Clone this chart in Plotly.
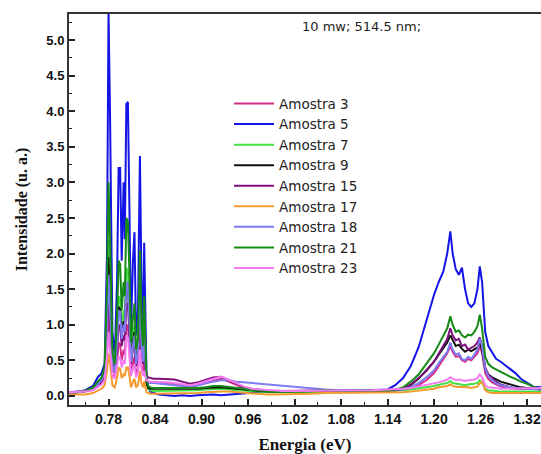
import plotly.graph_objects as go

# Photon energy grid (eV), shared by all samples
energy = [
    0.729, 0.740, 0.750, 0.760, 0.766, 0.771, 0.775, 0.778, 0.780, 0.782,
    0.785, 0.788, 0.791, 0.793, 0.795, 0.797, 0.7995, 0.801, 0.803, 0.805,
    0.807, 0.809, 0.8115, 0.8135, 0.8155, 0.818, 0.8205, 0.8225, 0.8245, 0.826,
    0.8275, 0.829, 0.831, 0.834, 0.838, 0.845, 0.855, 0.865, 0.875, 0.885,
    0.895, 0.905, 0.915, 0.925, 0.935, 0.945, 0.955, 0.965, 0.975, 0.985,
    0.995, 1.005, 1.020, 1.040, 1.060, 1.080, 1.100, 1.120, 1.140, 1.150,
    1.160, 1.170, 1.180, 1.190, 1.200, 1.206, 1.212, 1.217, 1.221, 1.224,
    1.228, 1.232, 1.236, 1.240, 1.244, 1.248, 1.252, 1.256, 1.259, 1.262,
    1.266, 1.270, 1.275, 1.280, 1.286, 1.292, 1.298, 1.305, 1.312, 1.320,
    1.328, 1.338,
]

amostra_3 = [
    0.05, 0.05, 0.06, 0.09, 0.14, 0.18, 0.26, 0.65, 1.10, 0.80,
    0.30, 0.26, 0.50, 0.75, 0.72, 0.50, 0.65, 0.58, 1.00, 0.98,
    0.65, 0.32, 0.45, 0.55, 0.30, 0.38, 0.70, 0.42, 0.32, 0.50,
    0.35, 0.22, 0.20, 0.19, 0.19, 0.19, 0.18, 0.17, 0.15, 0.13,
    0.15, 0.18, 0.22, 0.24, 0.20, 0.15, 0.11, 0.09, 0.08, 0.07,
    0.07, 0.07, 0.07, 0.07, 0.08, 0.07, 0.08, 0.08, 0.08, 0.08,
    0.09, 0.11, 0.15, 0.22, 0.32, 0.42, 0.52, 0.60, 0.70, 0.62,
    0.55, 0.56, 0.50, 0.48, 0.52, 0.50, 0.55, 0.60, 0.70, 0.60,
    0.32, 0.24, 0.19, 0.16, 0.13, 0.12, 0.11, 0.10, 0.10, 0.10,
    0.10, 0.10,
]

amostra_5 = [
    0.05, 0.06, 0.08, 0.14, 0.26, 0.32, 0.45, 2.00, 5.40, 3.90,
    0.90, 0.55, 1.60, 3.20, 3.20, 1.90, 3.00, 2.20, 4.10, 4.13,
    2.60, 0.95, 1.90, 2.30, 0.85, 1.20, 3.37, 1.60, 0.90, 2.15,
    1.20, 0.30, 0.12, 0.06, 0.04, 0.02, 0.01, 0.00, 0.01, 0.00,
    0.01, 0.02, 0.02, 0.01, 0.02, 0.02, 0.03, 0.04, 0.05, 0.06,
    0.06, 0.07, 0.07, 0.07, 0.07, 0.08, 0.08, 0.08, 0.09, 0.15,
    0.25, 0.42, 0.68, 1.05, 1.42, 1.60, 1.75, 2.00, 2.31, 2.00,
    1.78, 1.70, 1.80, 1.50, 1.30, 1.25, 1.30, 1.50, 1.82, 1.60,
    0.90, 0.70, 0.60, 0.52, 0.48, 0.43, 0.38, 0.32, 0.24, 0.18,
    0.13, 0.12,
]

amostra_7 = [
    0.05, 0.05, 0.06, 0.10, 0.16, 0.22, 0.35, 1.20, 2.20, 1.60,
    0.50, 0.38, 0.90, 1.40, 1.35, 0.95, 1.20, 1.05, 1.80, 1.75,
    1.20, 0.55, 0.85, 1.00, 0.50, 0.65, 1.50, 0.75, 0.55, 1.00,
    0.60, 0.18, 0.10, 0.08, 0.07, 0.07, 0.07, 0.07, 0.07, 0.07,
    0.08, 0.09, 0.10, 0.10, 0.09, 0.08, 0.07, 0.06, 0.06, 0.05,
    0.05, 0.05, 0.06, 0.06, 0.06, 0.06, 0.06, 0.06, 0.07, 0.07,
    0.08, 0.09, 0.10, 0.12, 0.14, 0.16, 0.17, 0.18, 0.21, 0.18,
    0.17, 0.17, 0.16, 0.15, 0.16, 0.16, 0.17, 0.18, 0.22, 0.18,
    0.10, 0.08, 0.07, 0.07, 0.06, 0.06, 0.06, 0.06, 0.06, 0.06,
    0.06, 0.06,
]

amostra_9 = [
    0.05, 0.05, 0.07, 0.11, 0.18, 0.24, 0.36, 1.10, 1.95, 1.40,
    0.45, 0.36, 0.80, 1.25, 1.22, 0.85, 1.05, 0.95, 1.60, 1.55,
    1.10, 0.50, 0.75, 0.90, 0.45, 0.60, 1.30, 0.70, 0.50, 0.90,
    0.55, 0.18, 0.11, 0.10, 0.10, 0.10, 0.10, 0.09, 0.09, 0.09,
    0.10, 0.11, 0.12, 0.12, 0.11, 0.10, 0.09, 0.07, 0.06, 0.06,
    0.06, 0.06, 0.07, 0.07, 0.07, 0.07, 0.08, 0.08, 0.08, 0.08,
    0.10, 0.15, 0.24, 0.36, 0.48, 0.58, 0.68, 0.75, 0.85, 0.78,
    0.70, 0.72, 0.66, 0.62, 0.65, 0.63, 0.66, 0.68, 0.75, 0.65,
    0.38, 0.30, 0.26, 0.23, 0.20, 0.18, 0.16, 0.14, 0.12, 0.11,
    0.10, 0.09,
]

amostra_15 = [
    0.05, 0.05, 0.07, 0.10, 0.15, 0.20, 0.30, 0.85, 1.45, 1.05,
    0.40, 0.33, 0.65, 1.00, 0.98, 0.70, 0.85, 0.78, 1.30, 1.28,
    0.90, 0.45, 0.65, 0.75, 0.42, 0.52, 1.10, 0.60, 0.45, 0.70,
    0.45, 0.30, 0.26, 0.25, 0.24, 0.24, 0.24, 0.23, 0.20, 0.17,
    0.19, 0.22, 0.26, 0.27, 0.22, 0.16, 0.12, 0.10, 0.08, 0.07,
    0.07, 0.07, 0.07, 0.07, 0.08, 0.07, 0.08, 0.08, 0.08, 0.08,
    0.10, 0.16, 0.25, 0.35, 0.48, 0.60, 0.70, 0.80, 0.95, 0.85,
    0.78, 0.80, 0.70, 0.72, 0.65, 0.68, 0.70, 0.75, 0.82, 0.70,
    0.40, 0.30, 0.25, 0.20, 0.16, 0.14, 0.12, 0.11, 0.10, 0.10,
    0.10, 0.10,
]

amostra_17 = [
    0.02, 0.02, 0.02, 0.04, 0.07, 0.10, 0.15, 0.35, 0.60, 0.45,
    0.15, 0.12, 0.25, 0.40, 0.38, 0.25, 0.30, 0.28, 0.40, 0.40,
    0.28, 0.12, 0.20, 0.24, 0.12, 0.15, 0.35, 0.18, 0.12, 0.20,
    0.12, 0.05, 0.04, 0.03, 0.03, 0.03, 0.03, 0.03, 0.03, 0.03,
    0.04, 0.05, 0.06, 0.06, 0.06, 0.05, 0.04, 0.03, 0.03, 0.02,
    0.02, 0.02, 0.03, 0.03, 0.04, 0.04, 0.04, 0.04, 0.04, 0.05,
    0.05, 0.06, 0.07, 0.08, 0.10, 0.12, 0.13, 0.14, 0.16, 0.14,
    0.13, 0.13, 0.12, 0.12, 0.12, 0.11, 0.12, 0.13, 0.18, 0.20,
    0.08, 0.05, 0.04, 0.04, 0.04, 0.04, 0.04, 0.04, 0.04, 0.04,
    0.04, 0.04,
]

amostra_18 = [
    0.05, 0.05, 0.07, 0.10, 0.16, 0.22, 0.32, 1.00, 1.70, 1.25,
    0.42, 0.34, 0.75, 1.20, 1.18, 0.80, 1.00, 0.90, 1.60, 1.58,
    1.05, 0.48, 0.70, 0.85, 0.45, 0.60, 1.50, 0.70, 0.48, 0.90,
    0.50, 0.22, 0.19, 0.18, 0.18, 0.17, 0.16, 0.15, 0.14, 0.13,
    0.15, 0.18, 0.20, 0.22, 0.22, 0.20, 0.19, 0.18, 0.17, 0.16,
    0.15, 0.14, 0.12, 0.10, 0.09, 0.08, 0.08, 0.08, 0.08, 0.08,
    0.09, 0.12, 0.18, 0.26, 0.36, 0.46, 0.55, 0.62, 0.75, 0.65,
    0.58, 0.60, 0.52, 0.50, 0.55, 0.52, 0.58, 0.65, 0.80, 0.70,
    0.38, 0.28, 0.22, 0.18, 0.15, 0.13, 0.12, 0.11, 0.10, 0.10,
    0.10, 0.09,
]

amostra_21 = [
    0.05, 0.05, 0.07, 0.12, 0.20, 0.26, 0.40, 1.50, 3.00, 2.20,
    0.60, 0.45, 1.10, 1.90, 1.85, 1.20, 1.60, 1.40, 2.50, 2.45,
    1.70, 0.75, 1.10, 1.30, 0.65, 0.80, 2.05, 1.00, 0.70, 1.40,
    0.80, 0.25, 0.14, 0.12, 0.11, 0.11, 0.11, 0.10, 0.10, 0.10,
    0.11, 0.12, 0.14, 0.14, 0.13, 0.12, 0.10, 0.08, 0.07, 0.06,
    0.06, 0.06, 0.07, 0.07, 0.08, 0.07, 0.08, 0.08, 0.08, 0.09,
    0.12, 0.20, 0.30, 0.45, 0.60, 0.72, 0.85, 0.95, 1.12, 1.00,
    0.90, 0.92, 0.85, 0.82, 0.86, 0.85, 0.90, 0.98, 1.14, 0.95,
    0.55, 0.45, 0.40, 0.37, 0.33, 0.30, 0.27, 0.24, 0.20, 0.17,
    0.13, 0.10,
]

amostra_23 = [
    0.05, 0.05, 0.06, 0.08, 0.12, 0.16, 0.22, 0.55, 0.90, 0.65,
    0.28, 0.24, 0.40, 0.55, 0.54, 0.40, 0.50, 0.45, 0.85, 0.82,
    0.55, 0.28, 0.38, 0.45, 0.26, 0.32, 0.65, 0.38, 0.28, 0.35,
    0.28, 0.22, 0.21, 0.20, 0.20, 0.20, 0.19, 0.18, 0.16, 0.15,
    0.17, 0.20, 0.24, 0.27, 0.23, 0.18, 0.13, 0.10, 0.09, 0.08,
    0.08, 0.07, 0.07, 0.07, 0.08, 0.08, 0.08, 0.08, 0.09, 0.09,
    0.10, 0.11, 0.13, 0.15, 0.17, 0.19, 0.21, 0.23, 0.26, 0.24,
    0.22, 0.23, 0.22, 0.21, 0.22, 0.22, 0.23, 0.25, 0.30, 0.26,
    0.15, 0.12, 0.11, 0.11, 0.10, 0.10, 0.11, 0.10, 0.10, 0.11,
    0.10, 0.11,
]

series_names = ["Amostra 3", "Amostra 5", "Amostra 7", "Amostra 9", "Amostra 15",
                "Amostra 17", "Amostra 18", "Amostra 21", "Amostra 23"]
series_values = [amostra_3, amostra_5, amostra_7, amostra_9, amostra_15,
                 amostra_17, amostra_18, amostra_21, amostra_23]
series_colors = ["#d42a86", "#1414e6", "#44e044", "#111111", "#7d0f7d",
                 "#f59a2e", "#7c7cf0", "#168a16", "#f57cf0"]

x_ticks = [0.78, 0.84, 0.90, 0.96, 1.02, 1.08, 1.14, 1.20, 1.26, 1.32]
y_ticks = [0.0, 0.5, 1.0, 1.5, 2.0, 2.5, 3.0, 3.5, 4.0, 4.5, 5.0]

SANS = "Liberation Sans, Arial, sans-serif"
WIDE_SANS = "DejaVu Sans, Arial, sans-serif"
SERIF = "Liberation Serif, Times New Roman, serif"

fig = go.Figure()
for name, vals, col in zip(series_names, series_values, series_colors):
    fig.add_trace(go.Scatter(x=energy, y=vals, mode="lines", name=name,
                             line=dict(color=col, width=2)))

fig.update_layout(
    width=541, height=454,
    margin=dict(l=69, r=0, t=14, b=49),
    paper_bgcolor="white", plot_bgcolor="white",
    showlegend=True,
    legend=dict(x=0.339, y=0.81, xanchor="left", yanchor="top",
                bgcolor="rgba(0,0,0,0)", font=dict(family=WIDE_SANS, size=13.5, color="#222"),
                itemwidth=40, tracegroupgap=0),
    annotations=[dict(text="10 mw; 514.5 nm;", x=0.62, y=0.967, xref="paper", yref="paper",
                      xanchor="center", yanchor="middle", showarrow=False,
                      font=dict(family=WIDE_SANS, size=13, color="#222"))],
)

fig.update_xaxes(
    range=[0.729, 1.338], tickvals=x_ticks, ticktext=[f"{v:.2f}" for v in x_ticks],
    ticks="inside", ticklen=6, tickwidth=1.5, tickcolor="#222",
    minor=dict(ticks="inside", ticklen=3, tickwidth=1.2, tickcolor="#222", dtick=0.03, tick0=0.75),
    showline=True, linewidth=2, linecolor="#333", mirror=True,
    showgrid=False, zeroline=False,
    tickfont=dict(family=SANS, size=14, color="#111", weight="bold"),
    title=dict(text="Energia (eV)", font=dict(family=SERIF, size=17, color="#111", weight="bold"),
               standoff=15),
)
fig.update_yaxes(
    range=[-0.128, 5.365], tickvals=y_ticks, ticktext=[f"{v:.1f}" for v in y_ticks],
    ticks="inside", ticklen=6, tickwidth=1.5, tickcolor="#222",
    minor=dict(ticks="inside", ticklen=3, tickwidth=1.2, tickcolor="#222", dtick=0.25, tick0=0),
    showline=True, linewidth=2, linecolor="#333", mirror=False,
    showgrid=False, zeroline=False,
    tickfont=dict(family=SANS, size=13, color="#111", weight="bold"),
    title=dict(text="Intensidade (u. a.)", font=dict(family=SERIF, size=16, color="#111", weight="bold"),
               standoff=15),
)

fig.write_html("out.html")
